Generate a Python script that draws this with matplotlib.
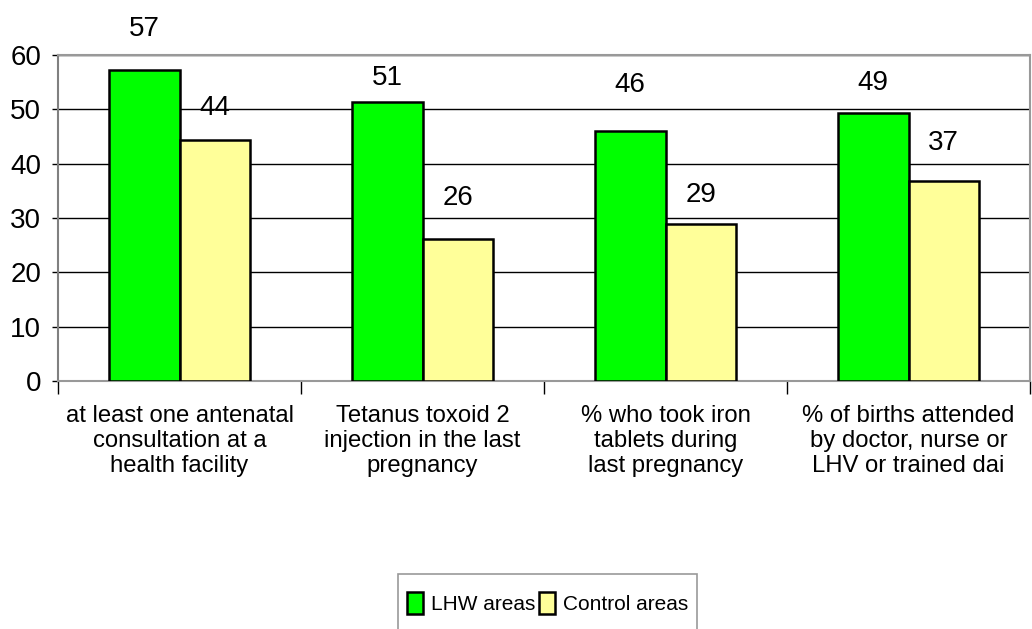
import numpy as np
import matplotlib.pyplot as plt
from matplotlib.patches import Patch, Rectangle

plt.rcParams['font.family'] = ['Liberation Sans', 'DejaVu Sans']

categories = ['at least one antenatal\nconsultation at a\nhealth facility',
              'Tetanus toxoid 2\ninjection in the last\npregnancy',
              '% who took iron\ntablets during\nlast pregnancy',
              '% of births attended\nby doctor, nurse or\nLHV or trained dai']
lhw = [57.2, 51.4, 46.0, 49.3]
control = [44.4, 26.1, 28.9, 36.9]
series_names = ['LHW areas', 'Control areas']

# label offsets above bar tops (points), as placed in the original
lhw_off = [30, 17, 33, 22]
ctl_off = [23, 30, 21, 27]

fig = plt.figure(figsize=(10.32, 6.29), dpi=100)
ax = fig.add_axes([58/1032, 1-381/629, 972/1032, 326/629])

x = np.arange(len(categories))
w = 0.29
ax.bar(x - w/2, lhw, w, color='#00FF00', edgecolor='black', linewidth=1.8, zorder=3)
ax.bar(x + w/2, control, w, color='#FFFF99', edgecolor='black', linewidth=1.8, zorder=3)

for i in range(len(x)):
    ax.annotate(f'{lhw[i]:.0f}', (x[i] - w/2, lhw[i]), xytext=(0, lhw_off[i]),
                textcoords='offset points', ha='center', va='center', fontsize=20)
    ax.annotate(f'{control[i]:.0f}', (x[i] + w/2, control[i]), xytext=(0, ctl_off[i]),
                textcoords='offset points', ha='center', va='center', fontsize=20)

ax.set_xlim(-0.5, len(categories) - 0.5)
ax.set_ylim(0, 60)
ax.set_yticks(range(0, 61, 10))
ax.tick_params(axis='y', labelsize=20, length=4, width=1, color='black', pad=8)
ax.yaxis.grid(True, color='black', linewidth=1, zorder=0)
ax.set_axisbelow(True)

ax.set_xticks(np.arange(-0.5, len(categories), 1.0))
ax.set_xticklabels([])
ax.tick_params(axis='x', which='major', length=9, width=1, color='black')
ax.set_xticks(x, minor=True)
ax.set_xticklabels(categories, minor=True, fontsize=17.2, linespacing=1.19)
ax.tick_params(axis='x', which='minor', length=0, pad=17)

for s in ax.spines.values():
    s.set_color('#999999')
    s.set_linewidth(1.5)
ax.spines['left'].set_color('#808080')

handles = [Patch(facecolor='#00FF00', edgecolor='black', linewidth=1.8),
           Patch(facecolor='#FFFF99', edgecolor='black', linewidth=1.8)]
leg = fig.legend(handles, series_names, loc='center', bbox_to_anchor=(547.5/1032, 1-603/629),
                 ncol=2, fontsize=15, frameon=False, handlelength=0.75,
                 handleheight=1.25, handletextpad=0.38, columnspacing=0.2,
                 borderpad=0.2)

# legend box: extends past the bottom edge like in the original
fig.canvas.draw()
bb = leg.get_window_extent().transformed(fig.transFigure.inverted())
top = 1 - 574/629
padx = 5/1032
fig.add_artist(Rectangle((bb.x0 - padx, -0.05), bb.width + 2*padx, top + 0.05,
                         transform=fig.transFigure, facecolor='none',
                         edgecolor='#999999', linewidth=1.2))

fig.savefig('out.png', dpi=100)
